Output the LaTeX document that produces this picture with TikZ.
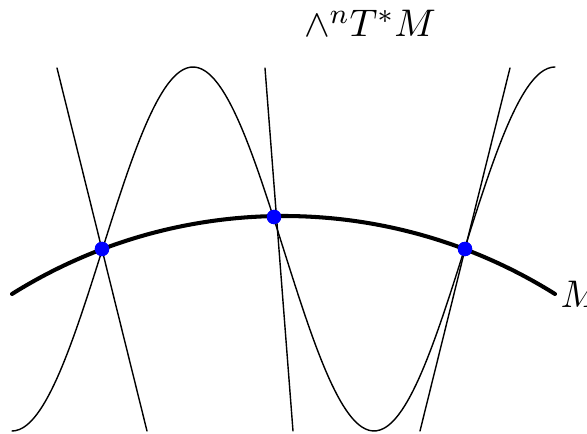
\documentclass[tikz,border=0pt]{standalone}
\usepackage{amsmath,amssymb}
\usepackage{tikz}
\usetikzlibrary{arrows.meta,positioning}
\definecolor{ptblue}{HTML}{0000FF}

\begin{document}
\begin{tikzpicture}[line cap=round,line join=round,x=0.01cm,y=0.01cm,
  font=\fontsize{10.8}{13}\selectfont,
  mk/.style={circle,fill=ptblue,inner sep=0pt,minimum size=4.1pt},
  sheet/.style={line width=1.15pt}]
\path[use as bounding box] (0,0) rectangle (587,434);
\fill[white] (0,0) rectangle (587,434);

% 顶部标签
\node[anchor=base] (lam) at (370,397) {$\wedge^n T^*M$};

% 交点
\node[mk] (p1) at (102,185) {};
\node[mk] (p2) at (274,217) {};
\node[mk] (p3) at (465,185) {};

% 直线端点
\coordinate (l1a) at (57,366);  \coordinate (l1b) at (147,3);
\coordinate (l2a) at (265,366); \coordinate (l2b) at (293,3);
\coordinate (l3a) at (510,366); \coordinate (l3b) at (420,3);
\draw (l1a)--(l1b);
\draw (l2a)--(l2b);
\draw (l3a)--(l3b);

% 截面曲线
\draw plot[domain=12:555,samples=150,smooth] (\x,{185-182*cos((\x-12)/362*360)});

% 零截面 M
\draw[sheet] (12,140) arc[start angle=122.06,end angle=57.94,radius=511.5]
  node[right,inner sep=1pt] (mlab) {$M$};

% 点重画于最上层
\foreach \p in {p1,p2,p3} \node[mk] at (\p) {};
\end{tikzpicture}
\end{document}
